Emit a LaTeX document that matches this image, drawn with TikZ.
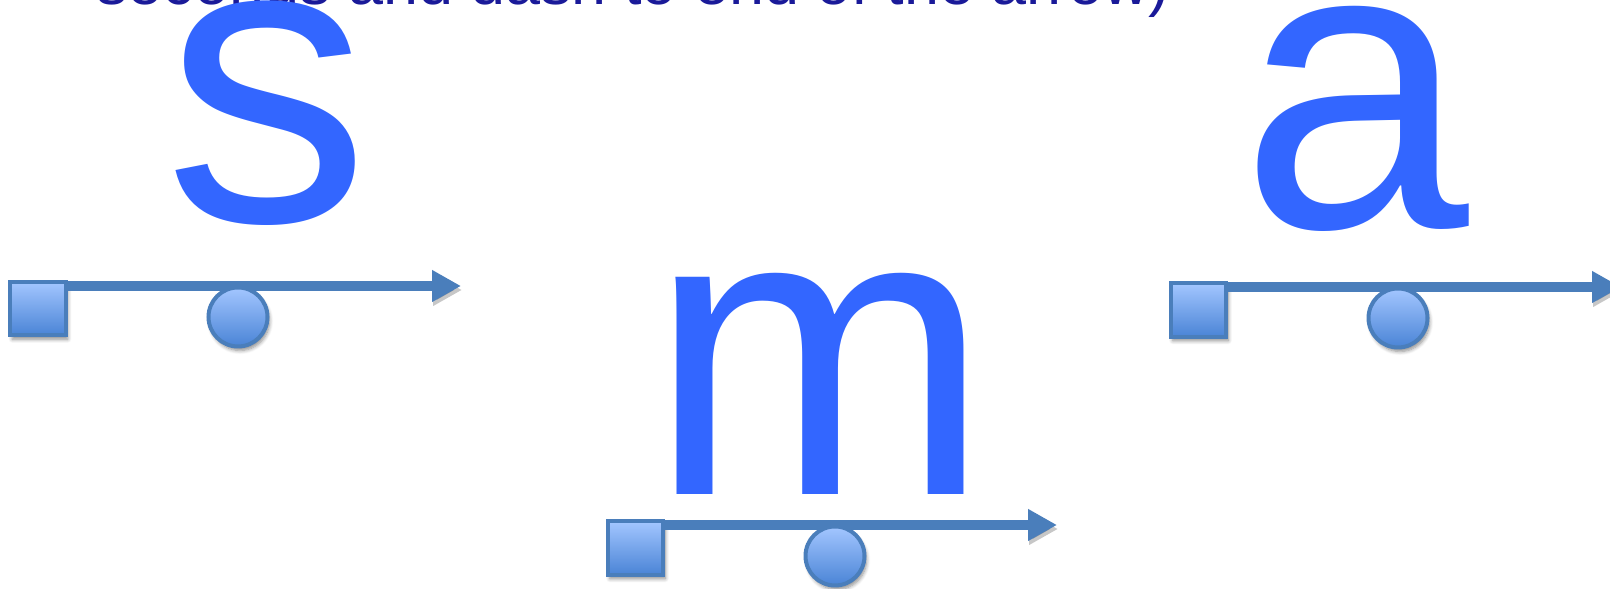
\documentclass[tikz,border=0pt]{standalone}
\usepackage{fontspec}
\setmainfont{Liberation Sans}
\usetikzlibrary{arrows.meta, shadows.blur}
\definecolor{letterblue}{HTML}{3366FF}
\definecolor{titlenavy}{HTML}{1A1A99}
\definecolor{edgeblue}{HTML}{4A7EBB}
\definecolor{fillhigh}{HTML}{A3C6FF}
\definecolor{filllow}{HTML}{4A84D6}

\begin{document}
\begin{tikzpicture}[
	marker/.style={draw=edgeblue, line width=0.08cm, top color=fillhigh, bottom color=filllow, blur shadow={shadow xshift=0.04cm, shadow yshift=-0.08cm, shadow opacity=45, shadow blur steps=6}},
	box/.style={marker, shape=rectangle, outer sep=0pt, minimum width=1.11cm, minimum height=1.07cm},
	ball/.style={marker, shape=circle, inner sep=0pt, minimum size=1.18cm},
	track/.style={draw=edgeblue, line width=0.2cm, -{Triangle[length=0.58cm, width=0.6cm]}, preaction={draw=black, opacity=0.22, transform canvas={xshift=0.02cm, yshift=-0.08cm}}},
	letter/.style={text=letterblue, inner sep=0pt, anchor=base, font=\fontsize{234}{234}\selectfont}
]
	\useasboundingbox (0, 0) rectangle (32.2, 11.78);
	\node[anchor=base west, inner sep=0pt, text=titlenavy, font=\fontsize{35.8}{36}\selectfont](T) at (1.92, 11.68){seconds and dash to end of the arrow)};
	\node[letter](L1) at (5.35, 7.34){s};
	\node[letter](L2) at (16.4, 1.88){m};
	\node[letter](L3) at (27.1, 7.22){a};
	\node[box](S1) at (0.76, 5.61){};
	\coordinate (E1) at (9.22, 6.06);
	\draw[track] (S1.east |- E1) -- (E1);
	\node[ball](B1) at (4.76, 5.44){};
	\node[box](S2) at (12.71, 0.82){};
	\coordinate (E2) at (21.14, 1.28);
	\draw[track] (S2.east |- E2) -- (E2);
	\node[ball](B2) at (16.7, 0.66){};
	\node[box](S3) at (23.97, 5.58){};
	\coordinate (E3) at (32.42, 6.04);
	\draw[track] (S3.east |- E3) -- (E3);
	\node[ball](B3) at (27.96, 5.42){};
\end{tikzpicture}
\end{document}
